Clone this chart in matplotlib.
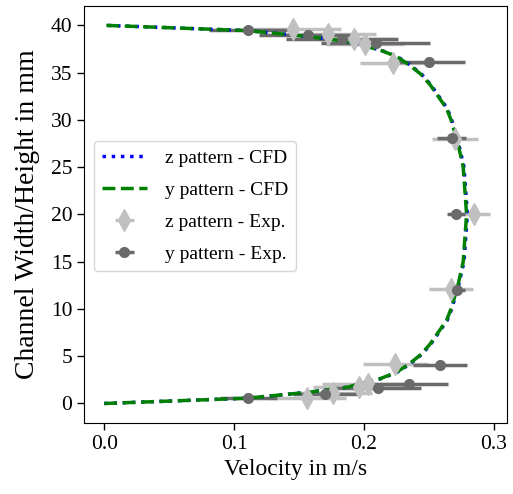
import matplotlib
matplotlib.use("Agg")
import matplotlib.pyplot as plt

plt.rcParams['font.family'] = ['Liberation Serif', 'DejaVu Serif']

# CFD profiles (height in mm, velocity in m/s)
y_cfd = [0, 0.56, 1.2, 1.72, 2.6, 3.3, 4.2, 5.2, 6.3, 8.8, 10, 12.3, 15, 20,
         25, 27.7, 30, 31.2, 33.7, 34.8, 35.8, 36.7, 37.4, 38.28, 38.8, 39.44, 40]
v_cfd_y = [0, 0.110, 0.158, 0.187, 0.212, 0.225, 0.235, 0.244, 0.251, 0.2636, 0.267,
           0.272, 0.2764, 0.279, 0.2764, 0.272, 0.267, 0.2636, 0.251, 0.244, 0.235,
           0.225, 0.212, 0.187, 0.158, 0.110, 0]
v_cfd_z = [0, 0.110, 0.158, 0.187, 0.2125, 0.2255, 0.2355, 0.2445, 0.2515, 0.2641, 0.2675,
           0.2725, 0.2770, 0.2796, 0.2770, 0.2725, 0.2675, 0.2641, 0.2515, 0.2445, 0.2355,
           0.2255, 0.2125, 0.187, 0.158, 0.110, 0]

# Experimental data, z pattern
y_exp_z = [0.6, 1.15, 1.7, 2.05, 4.15, 12.1, 20.0, 28.0, 36.05, 38.05, 38.55, 39.05, 39.6]
v_exp_z = [0.156, 0.176, 0.196, 0.203, 0.224, 0.267, 0.285, 0.270, 0.222, 0.201, 0.192, 0.172, 0.145]
e_exp_z = [0.030, 0.030, 0.035, 0.035, 0.025, 0.017, 0.012, 0.018, 0.025, 0.030, 0.030, 0.037, 0.037]

# Experimental data, y pattern
y_exp_y = [0.55, 1.05, 1.6, 2.05, 4.1, 12.0, 20.05, 28.05, 36.1, 38.1, 38.6, 39.0, 39.5]
v_exp_y = [0.111, 0.170, 0.211, 0.235, 0.2585, 0.2713, 0.2708, 0.2674, 0.250, 0.209, 0.183, 0.157, 0.111]
e_exp_y = [0.022, 0.025, 0.033, 0.030, 0.021, 0.0065, 0.007, 0.011, 0.028, 0.042, 0.043, 0.038, 0.030]

x_ticks = [0.0, 0.1, 0.2, 0.3]
x_ticklabels = ['0.0', '0.1', '0.2', '0.3']
y_ticks = [0, 5, 10, 15, 20, 25, 30, 35, 40]

fig = plt.figure(figsize=(5.13, 4.94), dpi=100)
ax = fig.add_axes([0.164, 0.144, 0.824, 0.844])

ez = ax.errorbar(v_exp_z, y_exp_z, xerr=e_exp_z, fmt='d', color='#c0c0c0',
                 ecolor='#c0c0c0', markersize=11, elinewidth=2.5, label='z pattern - Exp.')
ey = ax.errorbar(v_exp_y, y_exp_y, xerr=e_exp_y, fmt='o', color='#6a6a6a',
                 ecolor='#6a6a6a', markersize=7, elinewidth=2.5, label='y pattern - Exp.')
lz, = ax.plot(v_cfd_z, y_cfd, ':', color='blue', lw=2.5, label='z pattern - CFD')
ly, = ax.plot(v_cfd_y, y_cfd, '--', color='green', lw=2.5, label='y pattern - CFD')

ax.set_xlim(-0.0155, 0.31)
ax.set_ylim(-2.05, 42.05)
ax.set_xticks(x_ticks)
ax.set_xticklabels(x_ticklabels)
ax.set_yticks(y_ticks)
ax.tick_params(labelsize=15.5, length=5, width=1)
ax.set_xlabel('Velocity in m/s', fontsize=17)
ax.set_ylabel('Channel Width/Height in mm', fontsize=20, labelpad=8)

ax.legend(handles=[lz, ly, ez, ey], loc='center left', fontsize=14,
          bbox_to_anchor=(0.0, 0.52), labelspacing=0.75, handlelength=2.35,
          handletextpad=0.9)

fig.savefig('out.png', dpi=100)
